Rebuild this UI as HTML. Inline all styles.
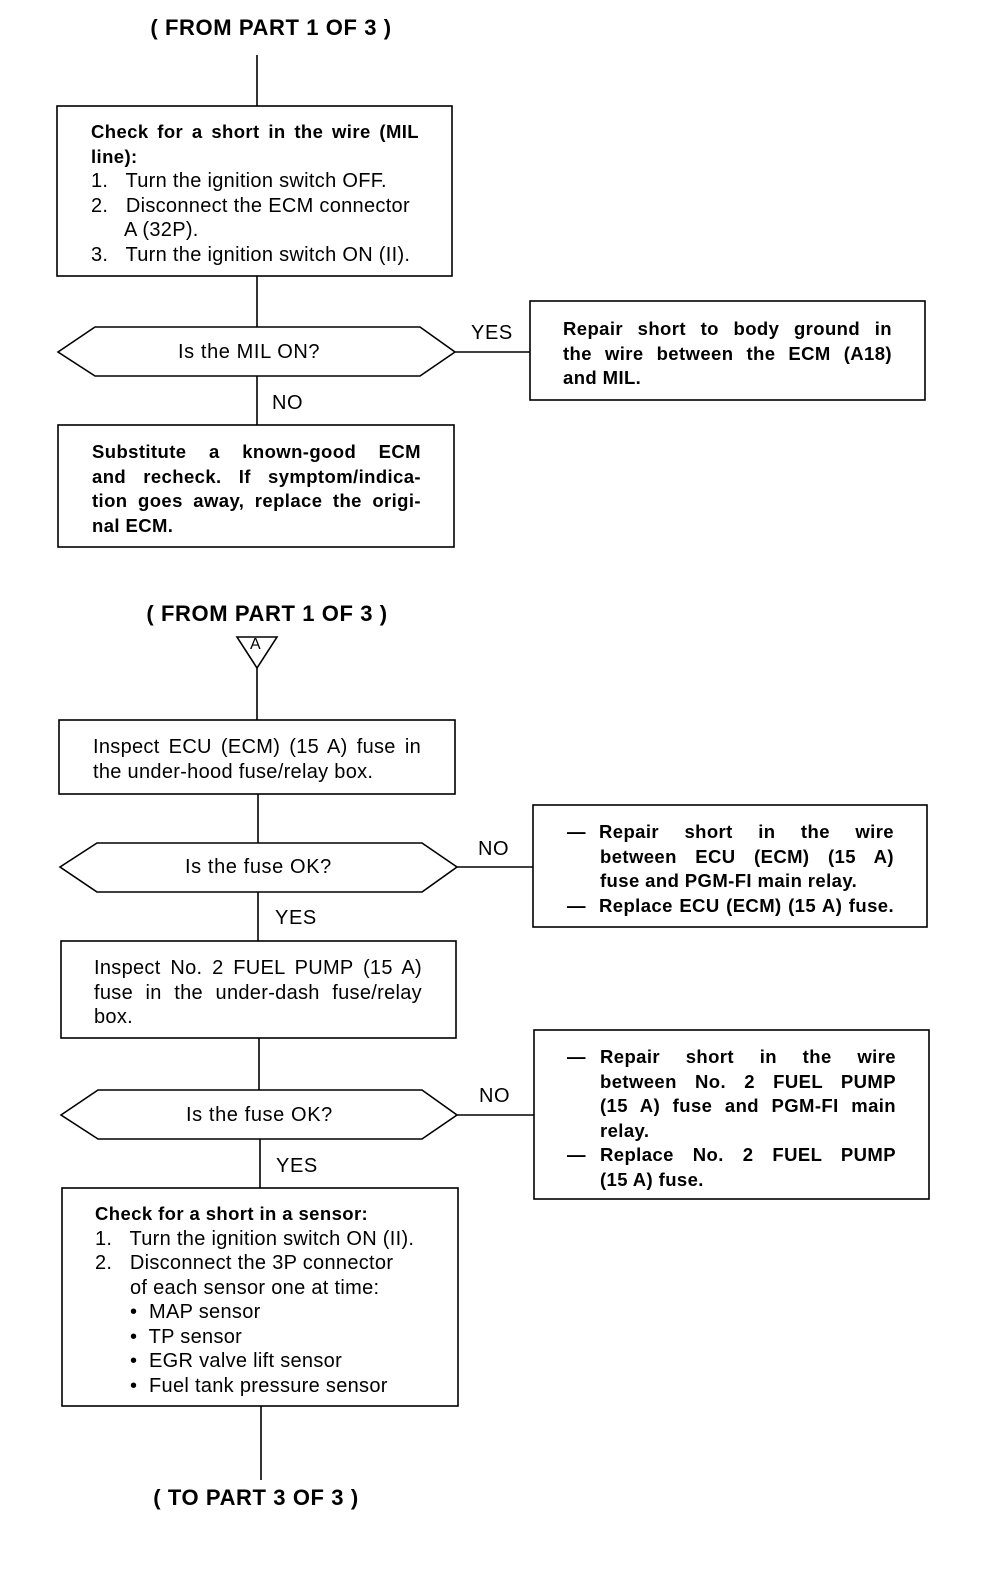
<!DOCTYPE html>
<html><head><meta charset="utf-8"><style>
body{margin:0;width:992px;height:1580px;background:#fff;position:relative;font-family:"Liberation Sans",Arial,sans-serif;color:#000;overflow:hidden}
.t{position:absolute;font-size:20px;letter-spacing:0.3px;line-height:24.5px;white-space:nowrap}
.h{position:absolute;font-size:22px;letter-spacing:0.6px;font-weight:bold;white-space:nowrap;transform:translateX(-50%)}
.b{font-weight:bold;font-size:18.5px;letter-spacing:0.4px}
.j{text-align:justify;text-align-last:justify;white-space:normal}
.l{position:absolute;font-size:20px;letter-spacing:0.6px;white-space:nowrap}
</style></head><body>
<svg width="992" height="1580" style="position:absolute;left:0;top:0" fill="none" stroke="#000" stroke-width="1.6">
<line x1="257" y1="55" x2="257" y2="106"/>
<rect x="57" y="106" width="395" height="170"/>
<line x1="257" y1="276" x2="257" y2="327"/>
<polygon points="58,352 95,327 420,327 455,352 420,376 95,376"/>
<line x1="455" y1="352" x2="530" y2="352"/>
<rect x="530" y="301" width="395" height="99"/>
<line x1="257" y1="376" x2="257" y2="425"/>
<rect x="58" y="425" width="396" height="122"/>
<polygon points="237,637 277,637 257,668"/>
<line x1="257" y1="668" x2="257" y2="720"/>
<rect x="59" y="720" width="396" height="74"/>
<line x1="258" y1="794" x2="258" y2="843"/>
<polygon points="60,867 97,843 422,843 457,867 422,892 97,892"/>
<line x1="457" y1="867" x2="533" y2="867"/>
<rect x="533" y="805" width="394" height="122"/>
<line x1="258" y1="892" x2="258" y2="941"/>
<rect x="61" y="941" width="395" height="97"/>
<line x1="259" y1="1038" x2="259" y2="1090"/>
<polygon points="61,1115 98,1090 422,1090 457,1115 422,1139 98,1139"/>
<line x1="457" y1="1115" x2="534" y2="1115"/>
<rect x="534" y="1030" width="395" height="169"/>
<line x1="260" y1="1139" x2="260" y2="1188"/>
<rect x="62" y="1188" width="396" height="218"/>
<line x1="261" y1="1406" x2="261" y2="1480"/>
</svg>

<div class="h" style="left:271px;top:15px">( FROM PART 1 OF 3 )</div>
<div class="t" style="left:91px;top:120px;width:328px">
<div class="b j">Check for a short in the wire (MIL</div>
<div class="b">line):</div>
<div>1.&nbsp;&nbsp; Turn the ignition switch OFF.</div>
<div>2.&nbsp;&nbsp; Disconnect the ECM connector</div>
<div style="padding-left:33px">A (32P).</div>
<div>3.&nbsp;&nbsp; Turn the ignition switch ON (II).</div>
</div>
<div class="l" style="left:178px;top:341px">Is the MIL ON?</div>
<div class="l" style="left:471px;top:322px">YES</div>
<div class="t" style="left:563px;top:317px;width:329px">
<div class="b j">Repair short to body ground in</div>
<div class="b j">the wire between the ECM (A18)</div>
<div class="b">and MIL.</div>
</div>
<div class="l" style="left:272px;top:392px">NO</div>
<div class="t" style="left:92px;top:440px;width:329px">
<div class="b j">Substitute a known-good ECM</div>
<div class="b j">and recheck. If symptom/indica-</div>
<div class="b j">tion goes away, replace the origi-</div>
<div class="b">nal ECM.</div>
</div>

<div class="h" style="left:267px;top:601px">( FROM PART 1 OF 3 )</div>
<div class="l" style="left:250px;top:636px;font-size:16px;letter-spacing:0">A</div>
<div class="t" style="left:93px;top:735px;width:328px">
<div class="j">Inspect ECU (ECM) (15 A) fuse in</div>
<div>the under-hood fuse/relay box.</div>
</div>
<div class="l" style="left:185px;top:856px">Is the fuse OK?</div>
<div class="l" style="left:478px;top:838px">NO</div>
<div class="t" style="left:567px;top:820px;width:327px">
<div class="b" style="display:flex"><span style="width:32px">—</span><span class="j" style="flex:1">Repair short in the wire</span></div>
<div class="b j" style="margin-left:33px">between ECU (ECM) (15 A)</div>
<div class="b" style="margin-left:33px">fuse and PGM-FI main relay.</div>
<div class="b" style="display:flex"><span style="width:32px">—</span><span class="j" style="flex:1">Replace ECU (ECM) (15 A) fuse.</span></div>
</div>
<div class="l" style="left:275px;top:907px">YES</div>
<div class="t" style="left:94px;top:956px;width:328px">
<div class="j">Inspect No. 2 FUEL PUMP (15 A)</div>
<div class="j">fuse in the under-dash fuse/relay</div>
<div>box.</div>
</div>
<div class="l" style="left:186px;top:1104px">Is the fuse OK?</div>
<div class="l" style="left:479px;top:1085px">NO</div>
<div class="t" style="left:567px;top:1045px;width:329px">
<div class="b" style="display:flex"><span style="width:33px">—</span><span class="j" style="flex:1">Repair short in the wire</span></div>
<div class="b j" style="margin-left:33px">between No. 2 FUEL PUMP</div>
<div class="b j" style="margin-left:33px">(15 A) fuse and PGM-FI main</div>
<div class="b" style="margin-left:33px">relay.</div>
<div class="b" style="display:flex"><span style="width:33px">—</span><span class="j" style="flex:1">Replace No. 2 FUEL PUMP</span></div>
<div class="b" style="margin-left:33px">(15 A) fuse.</div>
</div>
<div class="l" style="left:276px;top:1155px">YES</div>
<div class="t" style="left:95px;top:1202px;width:330px">
<div class="b">Check for a short in a sensor:</div>
<div>1.&nbsp;&nbsp; Turn the ignition switch ON (II).</div>
<div>2.&nbsp;&nbsp; Disconnect the 3P connector</div>
<div style="padding-left:35px">of each sensor one at time:</div>
<div style="padding-left:35px">•&nbsp; MAP sensor</div>
<div style="padding-left:35px">•&nbsp; TP sensor</div>
<div style="padding-left:35px">•&nbsp; EGR valve lift sensor</div>
<div style="padding-left:35px">•&nbsp; Fuel tank pressure sensor</div>
</div>
<div class="h" style="left:256px;top:1485px">( TO PART 3 OF 3 )</div>
</body></html>
